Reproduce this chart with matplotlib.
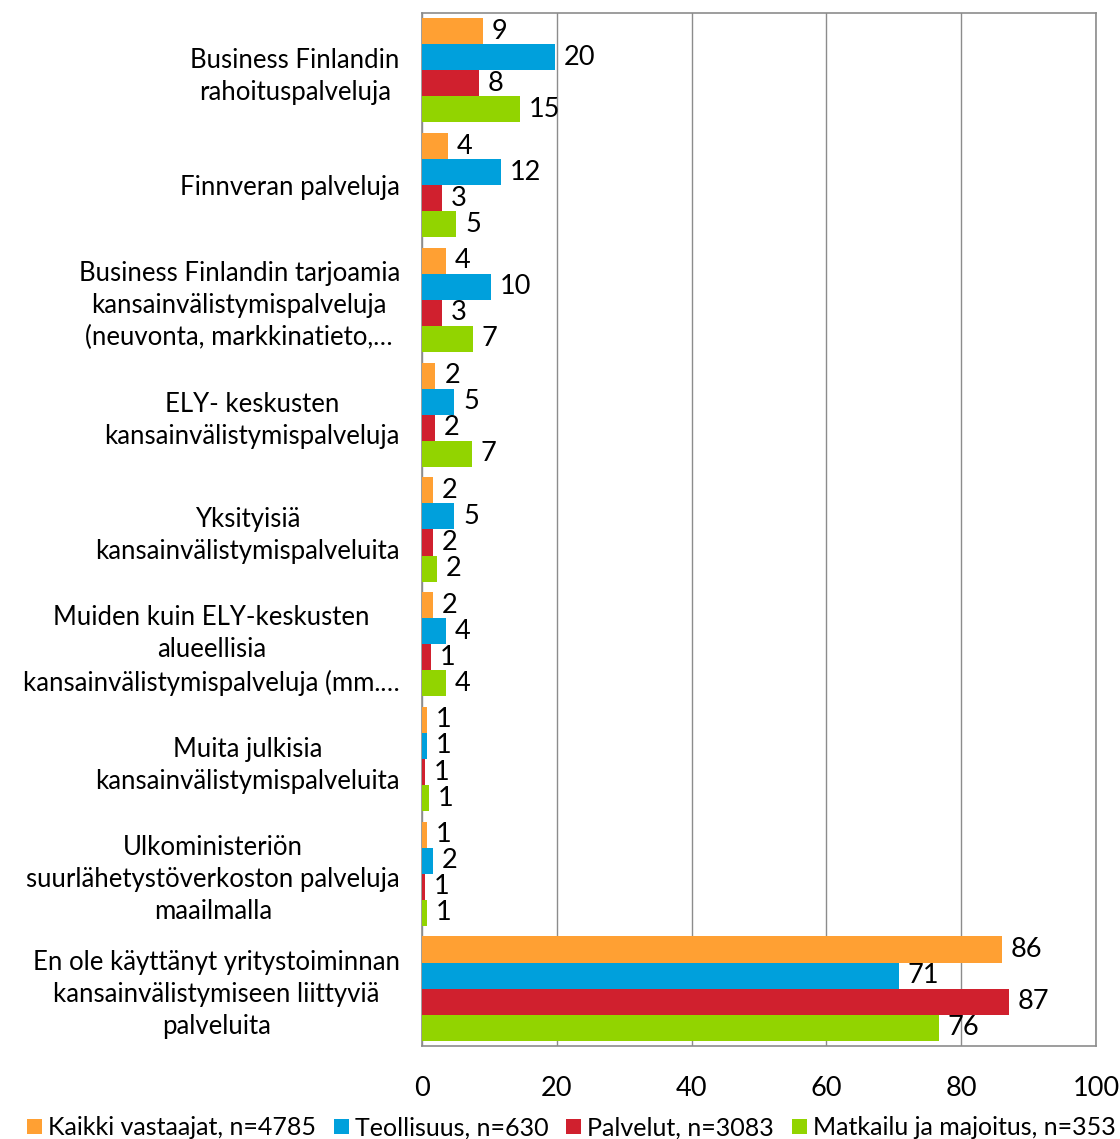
import matplotlib
matplotlib.use("Agg")
import matplotlib.pyplot as plt
import numpy as np

categories = [
    "Business Finlandin\nrahoituspalveluja",
    "Finnveran palveluja",
    "Business Finlandin tarjoamia\nkansainvälistymispalveluja\n(neuvonta, markkinatieto,…",
    "ELY- keskusten\nkansainvälistymispalveluja",
    "Yksityisiä\nkansainvälistymispalveluita",
    "Muiden kuin ELY-keskusten\nalueellisia\nkansainvälistymispalveluja (mm.…",
    "Muita julkisia\nkansainvälistymispalveluita",
    "Ulkoministeriön\nsuurlähetystöverkoston palveluja\nmaailmalla",
    "En ole käyttänyt yritystoiminnan\nkansainvälistymiseen liittyviä\npalveluita",
]
series_names = ["Kaikki vastaajat, n=4785", "Teollisuus, n=630",
                "Palvelut, n=3083", "Matkailu ja majoitus, n=353"]
kaikki = [9.0, 3.9, 3.5, 2.0, 1.7, 1.6, 0.7, 0.7, 86.1]
teollisuus = [19.7, 11.7, 10.2, 4.8, 4.8, 3.6, 0.8, 1.7, 70.7]
palvelut = [8.4, 3.0, 3.0, 1.9, 1.7, 1.3, 0.5, 0.5, 87.1]
matkailu = [14.5, 5.1, 7.5, 7.4, 2.2, 3.6, 1.0, 0.7, 76.7]
kaikki_lbl = [9, 4, 4, 2, 2, 2, 1, 1, 86]
teollisuus_lbl = [20, 12, 10, 5, 5, 4, 1, 2, 71]
palvelut_lbl = [8, 3, 3, 2, 2, 1, 1, 1, 87]
matkailu_lbl = [15, 5, 7, 7, 2, 4, 1, 1, 76]
xticks = [0, 20, 40, 60, 80, 100]

colors = ["#FFA033", "#00A0DC", "#D0202E", "#92D400"]
series = [kaikki, teollisuus, palvelut, matkailu]
labels = [kaikki_lbl, teollisuus_lbl, palvelut_lbl, matkailu_lbl]

plt.rcParams['font.family'] = ['Lato', 'DejaVu Sans']

fig = plt.figure(figsize=(11.2, 11.39), dpi=100)
ax = fig.add_axes([0.3768, 0.0817, 0.9786 - 0.3768, 0.9886 - 0.0817])

n = len(categories)
y = np.arange(n)
h = 0.227
for k, (vals, lbls, c, name) in enumerate(zip(series, labels, colors, series_names)):
    pos = y - 1.5 * h + k * h
    ax.barh(pos, vals, height=h, color=c, label=name, zorder=3)
    for p, v, l in zip(pos, vals, lbls):
        ax.text(v + 1.3, p, str(l), va='center', ha='left', fontsize=19.5, color='black')

ax.set_ylim(n - 0.5, -0.5)
ax.set_xlim(0, 100)
ax.set_xticks(xticks)
ax.set_xticklabels([str(t) for t in xticks], fontsize=19.5)
ax.set_yticks(y)
ax.set_yticklabels(categories, fontsize=18.5, multialignment='center', linespacing=1.35)
ax.tick_params(axis='y', length=0, pad=16)
ax.tick_params(axis='x', length=0, pad=22)
ax.grid(axis='x', color='#8C8C8C', linewidth=1, zorder=0)
for s in ax.spines.values():
    s.set_color('#8C8C8C')
    s.set_linewidth(1.2)

handles, lbls = ax.get_legend_handles_labels()
fig.legend(handles, lbls, loc='lower center', bbox_to_anchor=(0.51, -0.02), ncol=4,
           frameon=False, fontsize=18, handlelength=0.6, handleheight=0.6,
           handletextpad=0.25, columnspacing=0.7)

fig.savefig("out.png", dpi=100)
